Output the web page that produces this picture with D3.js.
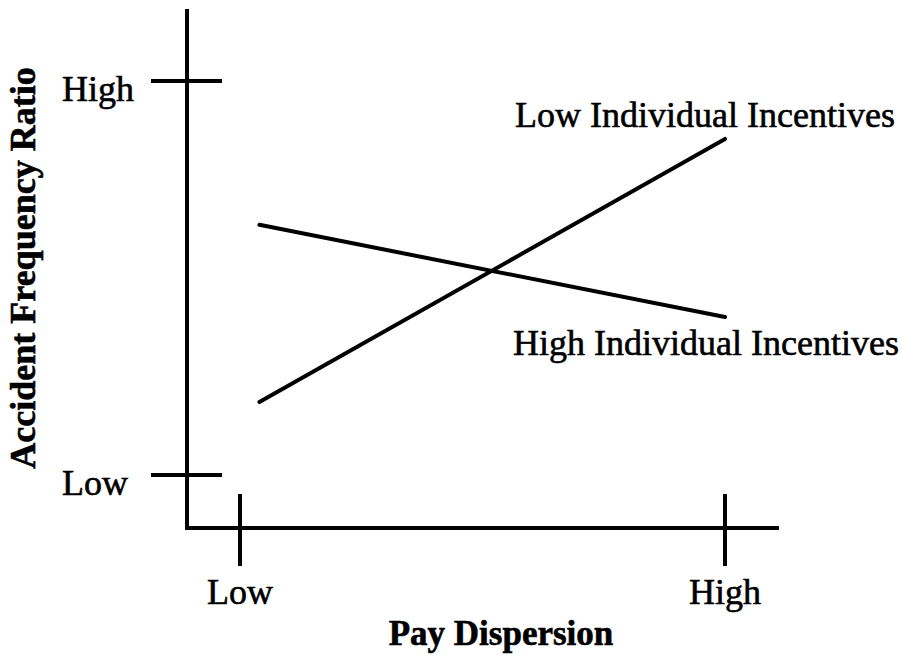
<!DOCTYPE html>
<html>
<head>
<meta charset="utf-8">
<script src="https://cdn.jsdelivr.net/npm/d3@7"></script>
<style>
  html, body { margin: 0; padding: 0; background: #fff; }
  svg { display: block; }
  text { font-family: "Liberation Serif", "Times New Roman", serif; fill: #000; stroke: #000; stroke-width: 0.6px; }
</style>
</head>
<body>
<svg id="chart" width="903" height="656"></svg>
<script>
// ---- data ----
const xCategories = ["Low", "High"];          // Pay Dispersion tick labels
const xTickValues = [0, 1];
const yCategories = ["Low", "High"];          // Accident Frequency Ratio tick labels
const yTickValues = [0, 1];
const linePositions = [0.04, 1.0];            // x positions of line endpoints
const lowIncentives = [0.185, 0.853];         // Low Individual Incentives
const highIncentives = [0.635, 0.401];        // High Individual Incentives
const seriesNames = ["Low Individual Incentives", "High Individual Incentives"];

// ---- layout ----
const svg = d3.select("#chart");
const x = d3.scaleLinear().domain([0, 1]).range([240, 725]);
const y = d3.scaleLinear().domain([0, 1]).range([475, 81]);
const axisX = 187, axisY = 528;
const ink = "#000";

// axes lines
svg.append("line").attr("x1", axisX).attr("x2", axisX).attr("y1", 9).attr("y2", axisY + 2)
  .attr("stroke", ink).attr("stroke-width", 4);
svg.append("line").attr("x1", axisX - 2).attr("x2", 779).attr("y1", axisY).attr("y2", axisY)
  .attr("stroke", ink).attr("stroke-width", 4);

// y ticks (crossing)
svg.selectAll(".ytick").data(yTickValues).join("line")
  .attr("x1", 151).attr("x2", 222)
  .attr("y1", d => y(d)).attr("y2", d => y(d))
  .attr("stroke", ink).attr("stroke-width", 4);
svg.selectAll(".ylab").data(yTickValues).join("text")
  .attr("x", 62).attr("y", d => y(d) + 20)
  .attr("font-size", 36)
  .text((d, i) => yCategories[i]);

// x ticks (crossing)
svg.selectAll(".xtick").data(xTickValues).join("line")
  .attr("x1", d => x(d)).attr("x2", d => x(d))
  .attr("y1", 494).attr("y2", 566)
  .attr("stroke", ink).attr("stroke-width", 4);
svg.selectAll(".xlab").data(xTickValues).join("text")
  .attr("x", d => x(d)).attr("y", 604)
  .attr("text-anchor", "middle")
  .attr("font-size", 36)
  .text((d, i) => xCategories[i]);

// axis titles
svg.append("text").attr("x", 501).attr("y", 645).attr("text-anchor", "middle")
  .attr("font-size", 35).attr("font-weight", "bold").text("Pay Dispersion");
svg.append("text").attr("transform", "translate(35,268) rotate(-90)")
  .attr("text-anchor", "middle").attr("font-size", 36).attr("font-weight", "bold")
  .text("Accident Frequency Ratio");

// lines
const line = d3.line().x((d, i) => x(linePositions[i])).y(d => y(d));
[lowIncentives, highIncentives].forEach(s => {
  svg.append("path").attr("d", line(s)).attr("fill", "none")
    .attr("stroke", ink).attr("stroke-width", 4).attr("stroke-linecap", "round");
});

// series labels
svg.append("text").attr("x", 515).attr("y", 127).attr("font-size", 36).text(seriesNames[0]);
svg.append("text").attr("x", 513).attr("y", 355).attr("font-size", 36).text(seriesNames[1]);
</script>
</body>
</html>
